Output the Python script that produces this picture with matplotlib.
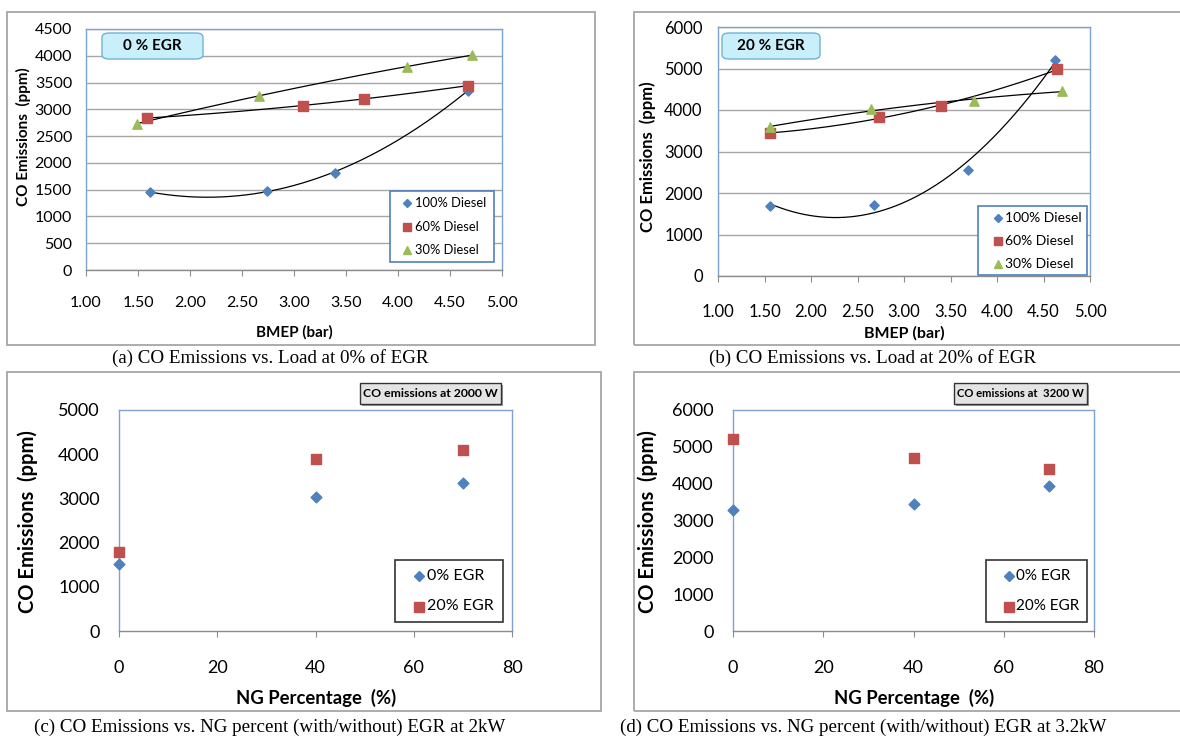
import numpy as np
import matplotlib
matplotlib.use("Agg")
import matplotlib.pyplot as plt
from matplotlib.patches import Rectangle, FancyBboxPatch
from matplotlib.lines import Line2D

# ---------------- data ----------------
bmep_a_100 = [1.62, 2.74, 3.39, 4.67]
co_a_100 = [1450, 1480, 1817, 3350]
bmep_a_60 = [1.59, 3.09, 3.67, 4.67]
co_a_60 = [2838, 3068, 3199, 3441]
bmep_a_30 = [1.49, 2.66, 4.09, 4.71]
co_a_30 = [2732, 3254, 3796, 4014]

bmep_b_100 = [1.56, 2.68, 3.69, 4.62]
co_b_100 = [1680, 1720, 2560, 5210]
bmep_b_60 = [1.56, 2.73, 3.40, 4.65]
co_b_60 = [3440, 3830, 4090, 4980]
bmep_b_30 = [1.56, 2.64, 3.75, 4.70]
co_b_30 = [3590, 4020, 4220, 4460]

ng_pct = [0, 40, 70]
co_c_egr0 = [1518, 3036, 3353]
co_c_egr20 = [1790, 3882, 4094]
co_d_egr0 = [3282, 3445, 3925]
co_d_egr20 = [5213, 4696, 4406]

series_labels_ab = ["100% Diesel", "60% Diesel", "30% Diesel"]
series_labels_cd = ["0% EGR", "20% EGR"]
captions = ["(a) CO Emissions vs. Load at 0% of EGR",
            "(b) CO Emissions vs. Load at 20% of EGR",
            "(c) CO Emissions vs. NG percent (with/without) EGR at 2kW",
            "(d) CO Emissions vs. NG percent (with/without) EGR at 3.2kW"]

# ---------------- styling ----------------
W, H = 1180, 736
BLUE = "#4F81BD"
RED = "#C0504D"
GREEN = "#9BBB59"
FRAME = "#A6A6A6"
AXBORDER = "#7EA3D2"
SANS = "Lato"
SERIF = "Liberation Serif"

fig = plt.figure(figsize=(W / 100, H / 100), dpi=100)
fig.patch.set_facecolor("white")


def px(l, t, r, b):
    return [l / W, 1 - b / H, (r - l) / W, (b - t) / H]


def fx(x):
    return x / W


def fy(y):
    return 1 - y / H


def frame(l, t, r, b):
    fig.patches.append(Rectangle((fx(l), fy(b)), (r - l) / W, (b - t) / H,
                                 transform=fig.transFigure, fill=False,
                                 edgecolor=FRAME, linewidth=1.3, zorder=0))


frame(7, 12, 595, 345)
frame(634, 12, 1182, 345)
frame(7, 372, 601, 711)
frame(634, 372, 1182, 711)


def style_axes(ax, xlim, xticks, ylim, yticks, fmt, grid, tsize, xpad, ypad):
    ax.set_xlim(*xlim)
    ax.set_ylim(*ylim)
    ax.set_xticks(xticks)
    ax.set_yticks(yticks)
    ax.set_xticklabels([fmt.format(v) for v in xticks])
    ax.set_yticklabels(["{:d}".format(int(v)) for v in yticks])
    for s in ["top", "right", "left"]:
        ax.spines[s].set_color(AXBORDER)
        ax.spines[s].set_linewidth(1.0)
    ax.spines["bottom"].set_color("#8C8C8C")
    ax.spines["bottom"].set_linewidth(1.0)
    ax.tick_params(axis="x", direction="out", length=4, width=0.8,
                   color="#8C8C8C", pad=xpad, labelsize=tsize)
    ax.tick_params(axis="y", length=0, pad=ypad, labelsize=tsize)
    for lab in ax.get_xticklabels() + ax.get_yticklabels():
        lab.set_fontfamily(SANS)
    if grid:
        ax.yaxis.grid(True, color="#A6A6A6", linewidth=1.0)
        ax.set_axisbelow(True)


def trend(ax, x, y):
    c = np.polyfit(x, y, 2)
    xs = np.linspace(min(x), max(x), 200)
    ax.plot(xs, np.polyval(c, xs), color="black", linewidth=0.9, zorder=2)


def cyan_box(l, t, r, b, text):
    bx = FancyBboxPatch((fx(l), fy(b)), (r - l) / W, (b - t) / H,
                        boxstyle="round,pad=0,rounding_size=0.006",
                        transform=fig.transFigure, facecolor="#C9F0FA",
                        edgecolor="#6FB4CF", linewidth=1.0, zorder=5)
    fig.patches.append(bx)
    fig.text(fx((l + r) / 2), fy((t + b) / 2), text, ha="center", va="center",
             fontsize=11, fontweight="bold", family=SANS, zorder=6)


def gray_box(l, t, r, b, text, fsize):
    sh = Rectangle((fx(l + 2), fy(b + 2)), (r - l) / W, (b - t) / H,
                   transform=fig.transFigure, facecolor="#9A9A9A",
                   edgecolor="none", zorder=4)
    fig.patches.append(sh)
    bx = Rectangle((fx(l), fy(b)), (r - l) / W, (b - t) / H,
                   transform=fig.transFigure, facecolor="#E4E4E4",
                   edgecolor="#333333", linewidth=1.0, zorder=5)
    fig.patches.append(bx)
    fig.text(fx((l + r) / 2), fy((t + b) / 2), text, ha="center", va="center",
             fontsize=fsize, fontweight="bold", family=SANS, zorder=6)


def legend_box(l, t, r, b, color, entries, fsize, mx, tx):
    bx = Rectangle((fx(l), fy(b)), (r - l) / W, (b - t) / H,
                   transform=fig.transFigure, facecolor="white",
                   edgecolor=color, linewidth=1.2, zorder=5)
    fig.patches.append(bx)
    n = len(entries)
    step = (b - t) / n
    for i, (mk, mc, ms, label) in enumerate(entries):
        yy = t + step * (i + 0.5)
        fig.lines.append(Line2D([fx(l + mx)], [fy(yy)], marker=mk, color=mc,
                                markersize=ms, linestyle="none",
                                transform=fig.transFigure, zorder=6))
        fig.text(fx(l + tx), fy(yy), label, ha="left", va="center",
                 fontsize=fsize, family=SANS, zorder=6)


# ---------------- (a) ----------------
axa = fig.add_axes(px(86, 29, 502, 270))
style_axes(axa, (1, 5), np.arange(1, 5.01, 0.5), (0, 4500), np.arange(0, 4501, 500),
           "{:.2f}", True, 11.5, 15, 10)
axa.scatter(bmep_a_100, co_a_100, marker="D", s=22, color=BLUE, zorder=3, clip_on=False)
axa.scatter(bmep_a_60, co_a_60, marker="s", s=45, color=RED, zorder=3, clip_on=False)
axa.scatter(bmep_a_30, co_a_30, marker="^", s=45, color=GREEN, zorder=3, clip_on=False)
trend(axa, bmep_a_100, co_a_100)
trend(axa, bmep_a_60, co_a_60)
trend(axa, bmep_a_30, co_a_30)
fig.text(fx(294), fy(332), "BMEP (bar)", ha="center", va="center", fontsize=11,
         fontweight="bold", family=SANS)
fig.text(fx(23), fy(137), "CO Emissions  (ppm)", ha="center", va="center", fontsize=11,
         fontweight="bold", family=SANS, rotation=90)
cyan_box(102, 33, 203, 59, "0 % EGR")
legend_box(390, 191, 494, 262, BLUE,
           [("D", BLUE, 4.5, series_labels_ab[0]), ("s", RED, 6, series_labels_ab[1]),
            ("^", GREEN, 6, series_labels_ab[2])], 9.3, 17, 25)
fig.text(fx(270), fy(358), captions[0], ha="center", va="center", fontsize=13.7, family=SERIF)

# ---------------- (b) ----------------
axb = fig.add_axes(px(718, 27, 1090, 276))
style_axes(axb, (1, 5), np.arange(1, 5.01, 0.5), (0, 6000), np.arange(0, 6001, 1000),
           "{:.2f}", True, 12, 16, 11)
axb.scatter(bmep_b_100, co_b_100, marker="D", s=22, color=BLUE, zorder=3, clip_on=False)
axb.scatter(bmep_b_60, co_b_60, marker="s", s=45, color=RED, zorder=3, clip_on=False)
axb.scatter(bmep_b_30, co_b_30, marker="^", s=45, color=GREEN, zorder=3, clip_on=False)
trend(axb, bmep_b_100, co_b_100)
trend(axb, bmep_b_60, co_b_60)
trend(axb, bmep_b_30, co_b_30)
fig.text(fx(904), fy(333), "BMEP (bar)", ha="center", va="center", fontsize=11.5,
         fontweight="bold", family=SANS)
fig.text(fx(648), fy(157), "CO Emissions  (ppm)", ha="center", va="center", fontsize=12,
         fontweight="bold", family=SANS, rotation=90)
cyan_box(722, 33, 820, 59, "20 % EGR")
legend_box(978, 206, 1087, 275, BLUE,
           [("D", BLUE, 4.5, series_labels_ab[0]), ("s", RED, 6, series_labels_ab[1]),
            ("^", GREEN, 6, series_labels_ab[2])], 10, 20, 27)
fig.text(fx(873), fy(358), captions[1], ha="center", va="center", fontsize=13.7, family=SERIF)

# ---------------- (c) ----------------
axc = fig.add_axes(px(119, 410, 512, 631))
style_axes(axc, (0, 80), np.arange(0, 81, 20), (0, 5000), np.arange(0, 5001, 1000),
           "{:d}", False, 13, 17, 14)
axc.set_xticklabels(["{:d}".format(int(v)) for v in np.arange(0, 81, 20)])
for lab in axc.get_xticklabels():
    lab.set_fontfamily(SANS)
axc.scatter(ng_pct, co_c_egr0, marker="D", s=30, color=BLUE, zorder=3, clip_on=False)
axc.scatter(ng_pct, co_c_egr20, marker="s", s=60, color=RED, zorder=3, clip_on=False)
fig.text(fx(316), fy(698), "NG Percentage  (%)", ha="center", va="center", fontsize=13.3,
         fontweight="bold", family=SANS)
fig.text(fx(28), fy(522), "CO Emissions  (ppm)", ha="center", va="center", fontsize=14.5,
         fontweight="bold", family=SANS, rotation=90)
gray_box(360, 383, 501, 404, "CO emissions at 2000 W", 8.8)
legend_box(395, 560, 503, 622, "#333333",
           [("D", BLUE, 5.5, series_labels_cd[0]), ("s", RED, 7.5, series_labels_cd[1])],
           11.5, 24, 32)
fig.text(fx(270), fy(727), captions[2], ha="center", va="center", fontsize=13.7, family=SERIF)

# ---------------- (d) ----------------
axd = fig.add_axes(px(733, 410, 1094, 631))
style_axes(axd, (0, 80), np.arange(0, 81, 20), (0, 6000), np.arange(0, 6001, 1000),
           "{:d}", False, 13, 17, 14)
axd.set_xticklabels(["{:d}".format(int(v)) for v in np.arange(0, 81, 20)])
for lab in axd.get_xticklabels():
    lab.set_fontfamily(SANS)
axd.scatter(ng_pct, co_d_egr0, marker="D", s=30, color=BLUE, zorder=3, clip_on=False)
axd.scatter(ng_pct, co_d_egr20, marker="s", s=60, color=RED, zorder=3, clip_on=False)
fig.text(fx(914), fy(698), "NG Percentage  (%)", ha="center", va="center", fontsize=13.3,
         fontweight="bold", family=SANS)
fig.text(fx(648), fy(522), "CO Emissions  (ppm)", ha="center", va="center", fontsize=14.5,
         fontweight="bold", family=SANS, rotation=90)
gray_box(954, 383, 1087, 404, "CO emissions at  3200 W", 8.1)
legend_box(986, 560, 1087, 622, "#333333",
           [("D", BLUE, 5.5, series_labels_cd[0]), ("s", RED, 7.5, series_labels_cd[1])],
           11, 23, 30)
fig.text(fx(863), fy(727), captions[3], ha="center", va="center", fontsize=13.7, family=SERIF)

fig.savefig("out.png", dpi=100)
